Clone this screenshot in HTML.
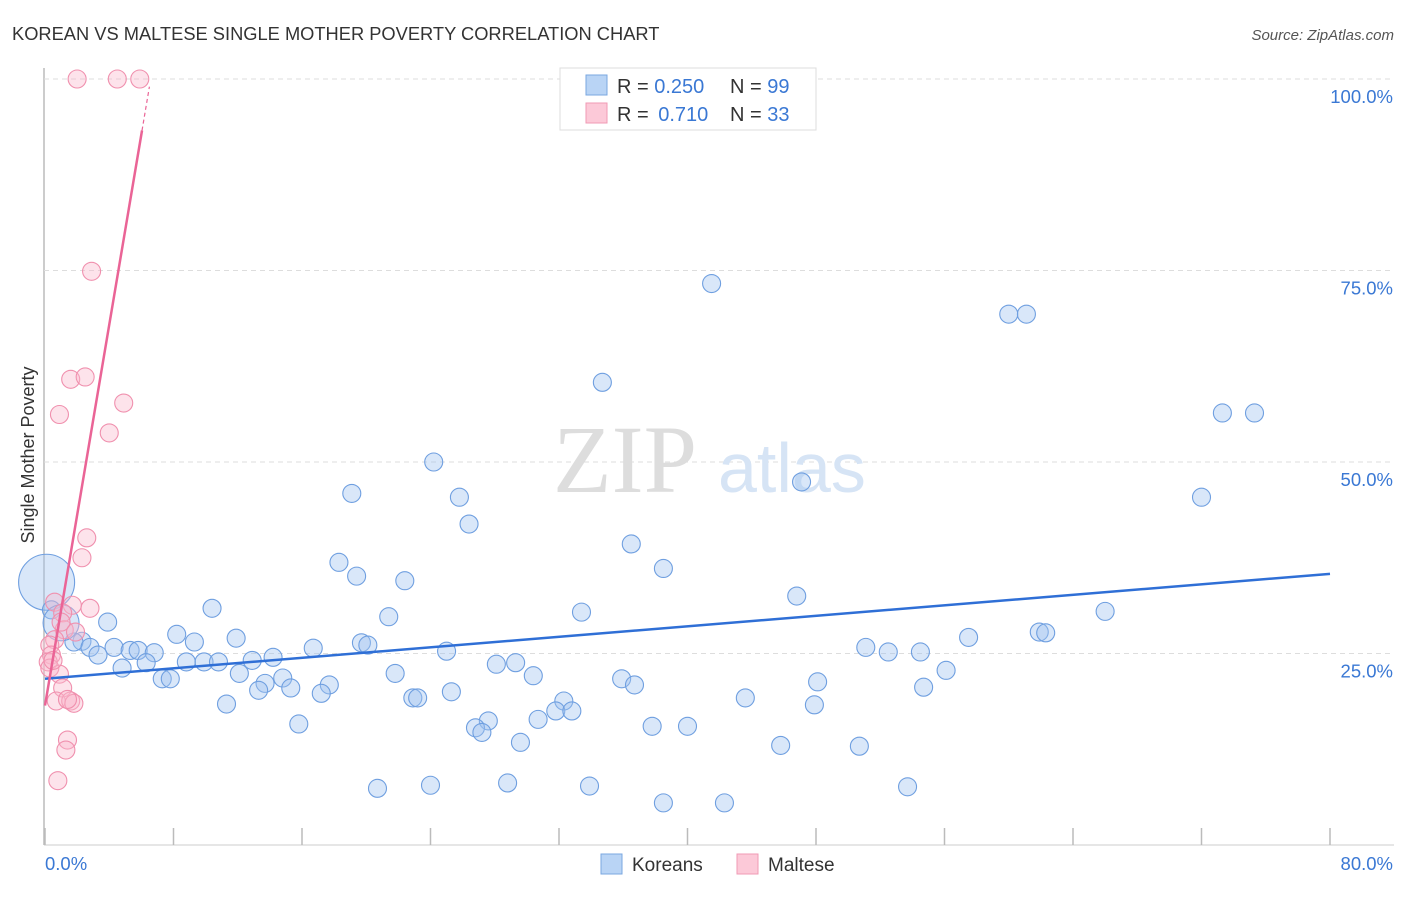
<!DOCTYPE html>
<html><head><meta charset="utf-8"><style>
body{margin:0;background:#fff;font-family:"Liberation Sans",sans-serif}
svg text{font-family:"Liberation Sans",sans-serif}
</style></head><body>
<svg width="1406" height="892" xmlns="http://www.w3.org/2000/svg">
<text x="12" y="40" font-size="18.3" fill="#333">KOREAN VS MALTESE SINGLE MOTHER POVERTY CORRELATION CHART</text>
<text x="1394" y="40" font-size="15" fill="#555" font-style="italic" text-anchor="end">Source: ZipAtlas.com</text>
<g id="grid"></g>
<text x="553" y="492" font-size="96" fill="#ddd" style="font-family:'Liberation Serif',serif">ZIP</text>
<text x="718" y="492" font-size="70" fill="#d6e4f5">atlas</text>
<g id="pts"></g>
<g id="lines"></g>
<text x="34" y="455" font-size="18" fill="#333" transform="rotate(-90 34 455)" text-anchor="middle">Single Mother Poverty</text>
<text x="45" y="870" font-size="18.5" fill="#3a78d4">0.0%</text>
<text x="1393" y="870" font-size="18.5" fill="#3a78d4" text-anchor="end">80.0%</text>
<g>
<rect x="560" y="68" width="256" height="62" fill="#fff" stroke="#ddd"/>
<rect x="586" y="75" width="21" height="20" fill="#b9d4f5" stroke="#7aa7e0"/>
<rect x="586" y="103" width="21" height="20" fill="#fcc9d8" stroke="#f09ab4"/>
<text x="617" y="93" font-size="20" fill="#333">R = <tspan fill="#3a78d4">0.250</tspan></text>
<text x="730" y="93" font-size="20" fill="#333">N = <tspan fill="#3a78d4">99</tspan></text>
<text x="617" y="121" font-size="20" fill="#333">R = <tspan fill="#3a78d4" dx="4">0.710</tspan></text>
<text x="730" y="121" font-size="20" fill="#333">N = <tspan fill="#3a78d4">33</tspan></text>
</g>
<g>
<rect x="601" y="854" width="21" height="20" fill="#b9d4f5" stroke="#7aa7e0"/>
<text x="632" y="871" font-size="19" fill="#333">Koreans</text>
<rect x="737" y="854" width="21" height="20" fill="#fcc9d8" stroke="#f09ab4"/>
<text x="768" y="871" font-size="19" fill="#333">Maltese</text>
</g>
</svg>
<script>
const yTicks=[25,50,75,100];
const yTickLabels=["25.0%","50.0%","75.0%","100.0%"];
const xTicks=[0,8,16,24,32,40,48,56,64,72,80];
const koreanX=[41.5,60.0,61.1,34.7,73.3,75.3,24.2,47.1,19.1,25.8,72.0,26.4,36.5,18.3,38.5,19.4,22.4,46.8,66.0,10.4,33.4,21.4,3.9,61.9,62.3,57.5,11.9,8.2,9.3,2.3,1.8,2.8,4.3,5.3,5.8,6.8,16.7,19.7,20.1,25.0,51.1,52.5,54.5,3.3,14.2,12.9,8.8,9.9,10.8,6.3,4.8,28.1,29.3,12.1,21.8,30.4,56.1,7.3,7.8,14.8,35.9,48.1,13.7,17.7,36.7,13.3,15.3,17.2,25.3,54.7,22.9,23.2,43.6,32.3,11.3,47.9,31.8,32.8,30.7,27.6,15.8,26.8,27.2,37.8,40.0,29.6,45.8,50.7,20.7,24.0,28.8,33.9,53.7,38.5,42.3,0.1,0.4,1.0];
const koreanY=[73.3,69.3,69.3,60.4,56.4,56.4,50.0,47.4,45.9,45.4,45.4,41.9,39.3,36.9,36.1,35.1,34.5,32.5,30.5,30.9,30.4,29.8,29.1,27.8,27.7,27.1,27.0,27.5,26.5,26.6,26.5,25.8,25.8,25.4,25.4,25.1,25.7,26.4,26.1,25.3,25.8,25.2,25.2,24.8,24.5,24.1,23.9,23.9,23.9,23.8,23.1,23.6,23.8,22.4,22.4,22.1,22.8,21.7,21.7,21.8,21.7,21.3,21.1,20.9,20.9,20.2,20.5,19.8,20.0,20.6,19.2,19.2,19.2,18.8,18.4,18.3,17.5,17.5,16.4,16.2,15.8,15.3,14.7,15.5,15.5,13.4,13.0,12.9,7.4,7.8,8.1,7.7,7.6,5.5,5.5,34.3,30.7,29.0];
const koreanR=koreanX.map((v,i)=>i>=koreanX.length-3?[28,9,18][i-(koreanX.length-3)]:9);
const malteseX=[2.0,4.5,5.9,2.9,1.6,2.5,0.9,4.9,4.0,2.6,2.3,2.8,1.7,0.6,1.1,1.2,0.6,0.3,0.4,0.2,0.3,0.9,1.1,0.7,1.6,1.8,1.4,1.3,0.8,1.0,1.9,0.5,1.4];
const malteseY=[100,100,100,74.9,60.8,61.1,56.2,57.7,53.8,40.1,37.5,30.9,31.3,31.7,30.3,28.1,26.8,26.1,24.8,23.9,23.1,22.3,20.5,18.8,18.8,18.5,13.7,12.4,8.4,29.1,27.8,24.1,19.0];
const koreanTrend=[21.7,35.4];
const malteseTrend=[18.2,12.43];
const X=v=>45+v/80*1285, Y=v=>845-v/100*766;
const NS="http://www.w3.org/2000/svg";
function mk(t,a,p){const e=document.createElementNS(NS,t);for(const k in a)e.setAttribute(k,a[k]);p.appendChild(e);return e;}
const g=document.getElementById('grid');
let ax=mk('line',{x1:44,y1:68,x2:44,y2:845,stroke:'#bbb','stroke-width':1.5},g);


let bx=mk('line',{x1:44,y1:845,x2:1394,y2:845,stroke:'#ccc'},g);


yTicks.forEach((t,i)=>{
 const l=mk('line',{x1:44,x2:1394,y1:Y(t),y2:Y(t),stroke:'#ddd','stroke-dasharray':'5,4'},g);
 
 
 const tx=mk('text',{x:1393,y:Y(t)+24,'font-size':18.5,fill:'#3a78d4','text-anchor':'end'},g);
 tx.textContent=yTickLabels[i];
 
 
});
xTicks.forEach(t=>{
 const l=mk('line',{x1:X(t),x2:X(t),y1:828,y2:845,stroke:'#bbb','stroke-width':1.5},g);
 
 
});
const p=document.getElementById('pts');
koreanX.forEach((v,i)=>{
 const c=mk('circle',{cx:X(v),cy:Y(koreanY[i]),r:koreanR[i],fill:'rgba(160,196,240,0.4)',stroke:'#6f9fe0','stroke-width':1.1},p);
 
 
});
malteseX.forEach((v,i)=>{
 const c=mk('circle',{cx:X(v),cy:Y(malteseY[i]),r:9,fill:'rgba(250,185,205,0.4)',stroke:'#f090ae','stroke-width':1.1},p);
 
 
});
const L=document.getElementById('lines');
let kl=mk('line',{x1:X(0),y1:Y(koreanTrend[0]),x2:X(80),y2:Y(koreanTrend[1]),stroke:'#2f6fd6','stroke-width':2.5},L);


const mEnd=6.04, mDash=6.5;
let ml=mk('line',{x1:X(0),y1:Y(malteseTrend[0]),x2:X(mEnd),y2:Y(malteseTrend[0]+malteseTrend[1]*mEnd),stroke:'#ea6496','stroke-width':2.5},L);


let md=mk('line',{x1:X(mEnd),y1:Y(malteseTrend[0]+malteseTrend[1]*mEnd),x2:X(mDash),y2:Y(malteseTrend[0]+malteseTrend[1]*mDash),stroke:'#ea6496','stroke-width':1.2,'stroke-dasharray':'4,3'},L);


</script>
</body></html>
